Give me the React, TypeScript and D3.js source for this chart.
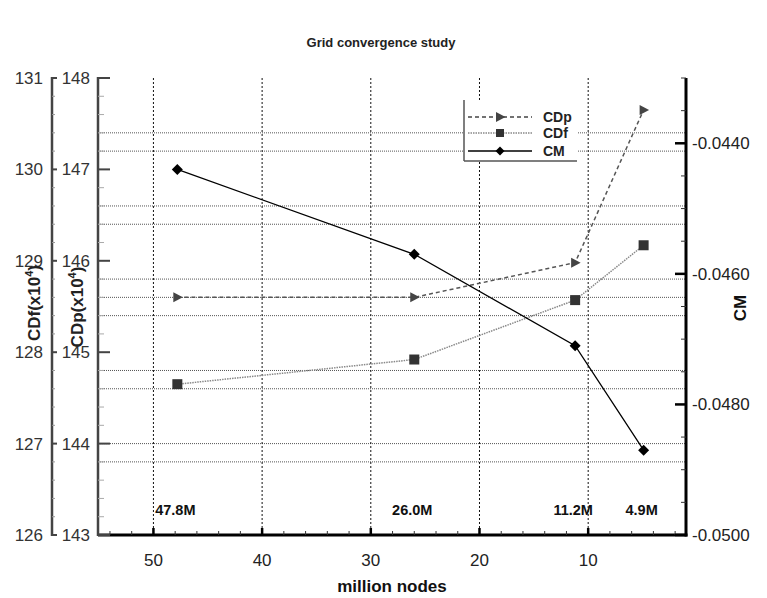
import React from "react";
import * as d3 from "d3";

const nodes = [47.8, 26.0, 11.2, 4.9];
const nodeLabels = ["47.8M", "26.0M", "11.2M", "4.9M"];
const cdp = [145.6, 145.6, 145.98, 147.65];
const cdf = [127.65, 127.92, 128.57, 129.17];
const cm = [-0.0444, -0.0457, -0.0471, -0.0487];

const xTicks = [50, 40, 30, 20, 10];
const cdfTicks = [126, 127, 128, 129, 130, 131];
const cdpTicks = [143, 144, 145, 146, 147, 148];
const cmTicks = [-0.05, -0.048, -0.046, -0.044];
const gridValues = [147.4, 147.2, 146.6, 146.4, 145.8, 145.6, 145.4, 144.8, 144.6, 144.0, 143.8];

const W = 767, H = 598;
const L = 98, R = 686, T = 78, B = 535;
const FONT = "'Liberation Sans', Arial, Helvetica, sans-serif";

export default function App() {
  const x = d3.scaleLinear().domain([55.1, 1]).range([L, R]);
  const yF = d3.scaleLinear().domain([126, 131]).range([B, T]);
  const yP = d3.scaleLinear().domain([143, 148]).range([B, T]);
  const yM = d3.scaleLinear().domain([-0.05, -0.043]).range([B, T]);

  const lineP = d3.line<number>().x((_, i) => x(nodes[i])).y((d) => yP(d));
  const lineF = d3.line<number>().x((_, i) => x(nodes[i])).y((d) => yF(d));
  const lineM = d3.line<number>().x((_, i) => x(nodes[i])).y((d) => yM(d));

  const xMinor = d3.range(54, 1, -2).filter((v) => v % 10 !== 0);
  const leftMinor = d3.range(143, 148.001, 0.2).filter((v) => Math.abs(v - Math.round(v)) > 0.01);
  const cmMinor = d3.range(-0.05, -0.0429, 0.0005).filter((v) => Math.abs(v / 0.002 - Math.round(v / 0.002)) > 0.01);

  const tri = (cx: number, cy: number, s = 5) =>
    `M${cx - s * 0.8},${cy - s} L${cx + s * 1.1},${cy} L${cx - s * 0.8},${cy + s} Z`;
  const diamond = (cx: number, cy: number, s = 5.5) =>
    `M${cx},${cy - s} L${cx + s},${cy} L${cx},${cy + s} L${cx - s},${cy} Z`;

  const legendRows = [
    { label: "CDp", y: 117, kind: "p" },
    { label: "CDf", y: 133, kind: "f" },
    { label: "CM", y: 151, kind: "m" },
  ];

  return (
    <svg width={W} height={H} style={{ position: "absolute", left: 0, top: 0, background: "#fff" }} fontFamily={FONT}>
      <rect x={0} y={0} width={W} height={H} fill="#fff" />
      <text x={381} y={47} textAnchor="middle" fontSize={13} fontWeight="bold" fill="#222">
        Grid convergence study
      </text>

      {/* horizontal grid */}
      {gridValues.map((v, i) => (
        <line key={"g" + i} x1={L + 2} x2={R} y1={yP(v)} y2={yP(v)} stroke="#555" strokeWidth={1} strokeDasharray="1 1" />
      ))}
      {/* vertical grid */}
      {xTicks.map((v) => (
        <line key={"vg" + v} x1={x(v)} x2={x(v)} y1={T} y2={B} stroke="#111" strokeWidth={1} strokeDasharray="2 2" />
      ))}

      {/* legend box */}
      <rect x={464} y={100} width={113} height={61} fill="#fff" />
      <line x1={464} x2={464} y1={100} y2={161} stroke="#555" strokeWidth={1.5} />
      <line x1={464} x2={577} y1={161} y2={161} stroke="#555" strokeWidth={1.5} />
      {legendRows.map((r) => (
        <g key={r.label}>
          {r.kind === "p" && (
            <>
              <line x1={468} x2={532} y1={r.y} y2={r.y} stroke="#444" strokeWidth={1.5} strokeDasharray="4 3" />
              <path d={tri(500, r.y)} fill="#444" />
            </>
          )}
          {r.kind === "f" && (
            <>
              <line x1={468} x2={532} y1={r.y} y2={r.y} stroke="#888" strokeWidth={1.5} strokeDasharray="1.5 1" />
              <rect x={496} y={r.y - 4} width={8} height={8} fill="#333" />
            </>
          )}
          {r.kind === "m" && (
            <>
              <line x1={468} x2={532} y1={r.y} y2={r.y} stroke="#000" strokeWidth={1.5} />
              <path d={diamond(500, r.y, 4.5)} fill="#000" />
            </>
          )}
          <text x={543} y={r.y + 5} fontSize={14} fontWeight="bold" fill="#222">
            {r.label}
          </text>
        </g>
      ))}

      {/* series */}
      <path d={lineF(cdf) || ""} fill="none" stroke="#888" strokeWidth={1.5} strokeDasharray="1.5 1" />
      <path d={lineP(cdp) || ""} fill="none" stroke="#555" strokeWidth={1.5} strokeDasharray="4 3" />
      <path d={lineM(cm) || ""} fill="none" stroke="#000" strokeWidth={1.3} />
      {cdf.map((v, i) => (
        <rect key={"f" + i} x={x(nodes[i]) - 5} y={yF(v) - 5} width={10} height={10} fill="#333" />
      ))}
      {cdp.map((v, i) => (
        <path key={"p" + i} d={tri(x(nodes[i]), yP(v))} fill="#444" />
      ))}
      {cm.map((v, i) => (
        <path key={"m" + i} d={diamond(x(nodes[i]), yM(v))} fill="#000" />
      ))}

      {/* node labels */}
      {nodes.map((n, i) => (
        <text key={"nl" + i} x={x(n) - 2} y={515} textAnchor="middle" fontSize={14.5} fontWeight="bold" fill="#111">
          {nodeLabels[i]}
        </text>
      ))}

      {/* bottom axis */}
      <line x1={L} x2={R + 1.5} y1={B} y2={B} stroke="#000" strokeWidth={3} />
      {xTicks.map((v) => (
        <g key={"xt" + v}>
          <line x1={x(v)} x2={x(v)} y1={B} y2={B - 7} stroke="#000" strokeWidth={2.5} />
          <text x={x(v)} y={566} textAnchor="middle" fontSize={17} fill="#222">{v}</text>
        </g>
      ))}
      {xMinor.map((v) => (
        <line key={"xm" + v} x1={x(v)} x2={x(v)} y1={B} y2={B - 4} stroke="#333" strokeWidth={1} />
      ))}
      <text x={392} y={592} textAnchor="middle" fontSize={17} fontWeight="bold" fill="#111">million nodes</text>

      {/* CDf axis */}
      <line x1={52} x2={52} y1={T - 1} y2={B + 1} stroke="#444" strokeWidth={2.5} />
      {cdfTicks.map((v) => (
        <g key={"ft" + v}>
          <line x1={51} x2={57} y1={yF(v)} y2={yF(v)} stroke="#444" strokeWidth={2} />
          <text x={43} y={yF(v) + 6} textAnchor="end" fontSize={17} fill="#333">{v}</text>
        </g>
      ))}
      {leftMinor.map((v, i) => (
        <line key={"fm" + i} x1={52} x2={55} y1={yP(v)} y2={yP(v)} stroke="#999" strokeWidth={1} />
      ))}

      {/* CDp axis */}
      <line x1={98} x2={98} y1={T - 1} y2={B + 1} stroke="#444" strokeWidth={2.5} />
      {cdpTicks.map((v) => (
        <g key={"pt" + v}>
          <line x1={97} x2={110} y1={yP(v)} y2={yP(v)} stroke="#444" strokeWidth={2} />
          <text x={90} y={yP(v) + 6} textAnchor="end" fontSize={17} fill="#333">{v}</text>
        </g>
      ))}
      {leftMinor.map((v, i) => (
        <line key={"pm" + i} x1={98} x2={104} y1={yP(v)} y2={yP(v)} stroke="#aaa" strokeWidth={1} />
      ))}

      {/* left titles */}
      <text transform="translate(40,303) rotate(-90)" textAnchor="middle" fontSize={17} fontWeight="bold" fill="#222">
        CDf(x10<tspan fontSize={11} dy={-7}>4</tspan><tspan dy={7}>)</tspan>
      </text>
      <text transform="translate(83,307) rotate(-90)" textAnchor="middle" fontSize={17} fontWeight="bold" fill="#222">
        CDp(x10<tspan fontSize={11} dy={-7}>4</tspan><tspan dy={7}>)</tspan>
      </text>

      {/* CM axis */}
      <line x1={R} x2={R} y1={T} y2={B + 1.5} stroke="#000" strokeWidth={3} />
      {cmTicks.map((v) => (
        <g key={"mt" + v}>
          <line x1={R} x2={R - 11} y1={yM(v)} y2={yM(v)} stroke="#000" strokeWidth={2.5} />
          <text x={692} y={yM(v) + 6} fontSize={17} fill="#222">{v.toFixed(4)}</text>
        </g>
      ))}
      {cmMinor.map((v, i) => (
        <line key={"mm" + i} x1={R} x2={R - 5} y1={yM(v)} y2={yM(v)} stroke="#333" strokeWidth={1} />
      ))}
      <text transform="translate(746,308) rotate(-90)" textAnchor="middle" fontSize={17} fontWeight="bold" fill="#111">
        CM
      </text>
    </svg>
  );
}
